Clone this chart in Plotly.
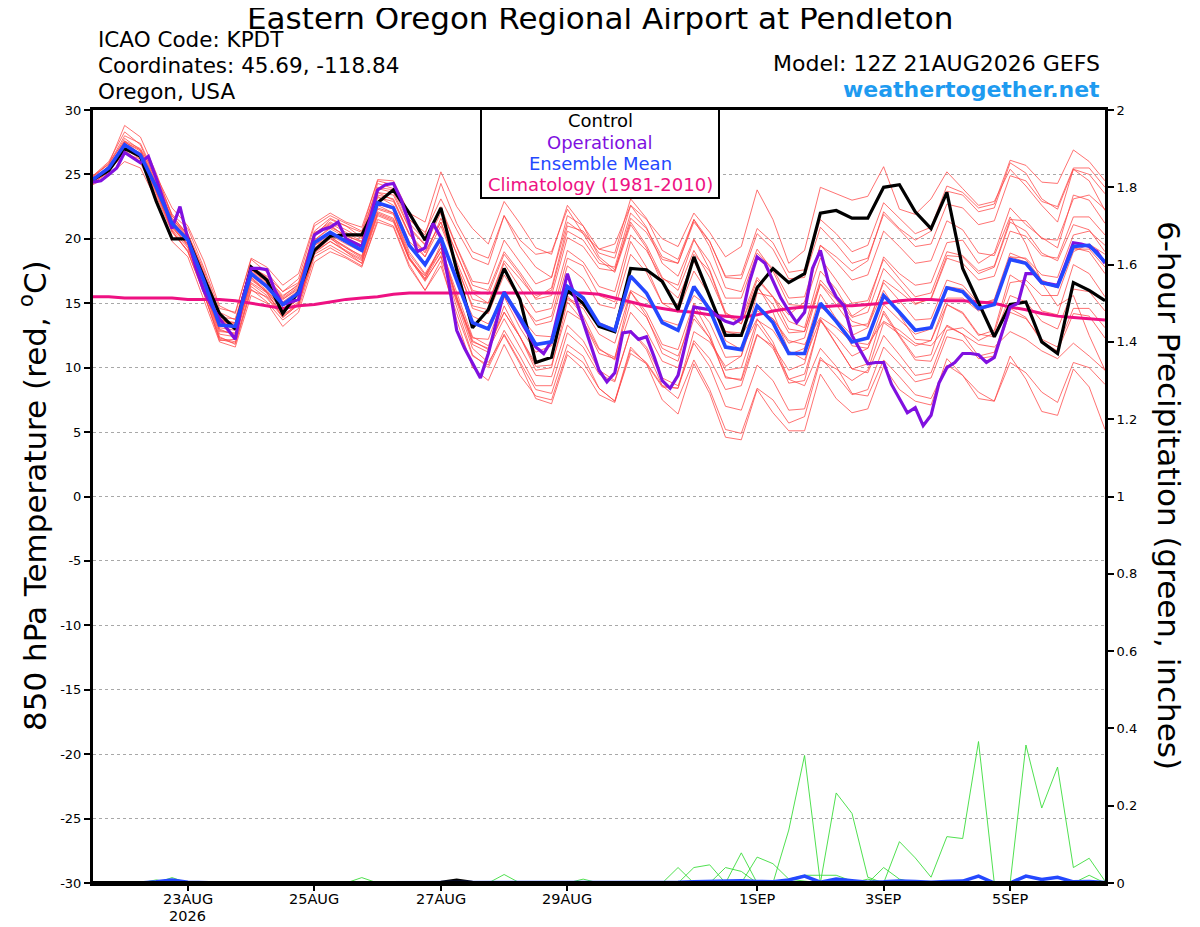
import plotly.graph_objects as go
import pandas as pd

# ---------------- data ----------------
start = "2026-08-21 12:00"
n6 = 65
n3 = 129

control = [24.6, 25.3, 27.0, 26.4, 22.9, 20.0, 20.0, 17.0, 14.2, 13.0, 17.8, 16.8, 14.2, 15.9, 19.1, 20.2,
           20.3, 20.3, 22.8, 23.8, 22.0, 19.9, 22.4, 17.6, 13.1, 14.5, 17.7, 15.3, 10.4, 10.8, 16.0, 15.0,
           13.2, 12.8, 17.7, 17.6, 16.7, 14.5, 18.6, 15.5, 12.5, 12.5, 16.2, 17.7, 16.6, 17.3, 22.0, 22.2,
           21.6, 21.6, 24.0, 24.2, 22.1, 20.8, 23.6, 17.7, 15.0, 12.4, 14.9, 15.1, 12.0, 11.1, 16.6, 16.0, 15.2]

ens_mean = [24.6, 25.5, 27.3, 26.5, 24.0, 21.2, 19.9, 16.8, 13.3, 13.2, 17.3, 16.3, 14.9, 15.8, 19.7, 20.5,
            19.8, 19.1, 22.8, 22.4, 19.5, 18.0, 20.1, 16.7, 13.5, 13.0, 15.8, 13.9, 11.8, 12.0, 16.3, 15.4,
            13.4, 12.9, 17.1, 15.8, 13.5, 12.9, 16.3, 14.5, 11.6, 11.4, 14.8, 13.5, 11.1, 11.1, 15.0, 13.6,
            12.0, 12.3, 15.6, 14.3, 12.9, 13.1, 16.2, 15.9, 14.6, 14.9, 18.4, 18.1, 16.6, 16.3, 19.4, 19.5, 18.2]

climatology = [15.5, 15.5, 15.4, 15.4, 15.4, 15.4, 15.3, 15.3, 15.3, 15.2, 15.0, 14.8, 14.6, 14.8, 14.9, 15.1,
               15.3, 15.4, 15.5, 15.7, 15.8, 15.8, 15.8, 15.8, 15.8, 15.8, 15.8, 15.8, 15.8, 15.8, 15.8, 15.8,
               15.7, 15.4, 15.1, 14.8, 14.6, 14.4, 14.3, 14.1, 14.0, 13.9, 14.1, 14.4, 14.6, 14.7, 14.7, 14.8,
               14.8, 14.9, 15.0, 15.2, 15.3, 15.3, 15.2, 15.2, 15.1, 15.0, 14.7, 14.5, 14.2, 14.0, 13.9, 13.8, 13.7]

# operational run, 3-hourly
operational = [24.4, 24.5, 25.0, 25.5, 26.7, 26.3, 25.9, 26.4, 24.7, 22.8, 20.8, 22.5, 20.0, 17.8, 16.0, 14.8,
               13.8, 13.0, 12.2, 15.5, 17.7, 17.7, 17.6, 16.0, 14.9, 15.1, 15.3, 18.0, 20.3, 20.7, 20.9, 21.3,
               20.0, 19.7, 19.4, 21.5, 23.8, 24.2, 24.3, 23.0, 21.2, 19.0, 19.3, 21.2, 20.1, 16.6, 12.9, 11.5,
               10.3, 9.2, 11.1, 13.5, 15.9, 14.8, 13.7, 12.6, 11.6, 11.1, 12.1, 14.7, 17.3, 15.4, 13.5, 11.6,
               9.8, 8.9, 9.6, 12.7, 12.8, 12.2, 12.4, 10.8, 9.0, 8.4, 9.4, 12.0, 14.7, 14.6, 14.5, 14.0,
               13.6, 13.4, 13.8, 16.6, 18.6, 18.1, 16.8, 15.4, 14.4, 13.5, 14.3, 17.7, 19.1, 16.7, 15.5, 14.8,
               12.5, 11.4, 10.3, 10.4, 10.4, 8.7, 7.6, 6.5, 6.9, 5.5, 6.3, 8.8, 10.0, 10.4, 11.1, 11.1,
               11.0, 10.4, 10.8, 12.8, 14.7, 15.0, 17.3, 17.3, 16.6, 16.5, 16.4, 18.0, 19.7, 19.6, 19.4, 19.0, 18.1]

m01 = [24.9, 26.0, 28.3, 27.3, 24.5, 21.5, 20.4, 17.6, 14.3, 13.7, 17.8, 17.1, 15.9, 16.6, 20.2, 21.5, 21.0, 20.1, 24.3,
       23.9, 21.5, 20.5, 23.1, 20.7, 18.5, 18.0, 21.8, 19.9, 18.8, 19.0, 22.3, 20.4, 19.2, 19.6, 22.6, 21.5, 20.0, 19.4, 22.0,
       20.5, 18.6, 19.4, 23.8, 21.5, 18.1, 19.1, 24.0, 23.5, 23.0, 23.3, 25.6, 22.3, 21.9, 23.1, 25.2, 23.9, 22.6, 22.9, 25.4,
       24.1, 22.6, 21.3, 25.4, 24.5, 22.2]
m02 = [24.2, 24.9, 26.0, 25.5, 23.0, 19.8, 18.6, 15.3, 12.0, 11.6, 15.6, 15.0, 13.2, 14.3, 18.2, 19.0, 18.5, 17.8, 21.5,
       21.0, 18.0, 16.0, 18.3, 13.7, 10.0, 9.0, 11.8, 9.4, 7.8, 7.5, 11.3, 10.4, 8.4, 7.4, 11.6, 10.3, 7.5, 6.4, 10.3,
       8.0, 4.6, 4.4, 8.3, 6.5, 5.1, 5.1, 9.5, 7.6, 6.5, 6.8, 10.1, 8.3, 7.4, 7.1, 10.7, 9.4, 8.1, 7.4, 10.9,
       9.1, 6.6, 6.3, 9.9, 8.5, 5.2]
m03 = [24.5, 25.7, 27.8, 26.9, 24.6, 21.8, 20.3, 17.4, 13.9, 13.0, 17.9, 16.8, 15.4, 16.3, 20.5, 21.0, 20.2, 19.8, 23.6,
       23.0, 20.4, 18.6, 21.0, 17.9, 14.8, 14.5, 17.6, 15.1, 13.6, 14.0, 18.5, 17.9, 15.6, 15.1, 19.8, 17.8, 15.0, 14.9, 18.8,
       17.5, 14.1, 13.4, 16.8, 15.5, 13.6, 13.1, 17.5, 16.1, 14.0, 14.8, 18.6, 17.3, 16.4, 16.6, 19.7, 19.9, 18.1, 18.9, 22.4,
       21.1, 20.1, 19.3, 23.4, 23.0, 21.2]
m04 = [24.8, 25.9, 27.6, 27.0, 24.9, 22.4, 21.0, 18.3, 14.8, 14.2, 18.5, 17.8, 16.4, 17.3, 21.2, 22.0, 21.3, 20.9, 24.5,
       24.2, 21.5, 20.3, 24.3, 21.2, 19.0, 18.5, 21.8, 19.4, 17.8, 17.0, 21.3, 20.4, 18.4, 17.4, 21.1, 19.3, 16.5, 15.4, 18.3,
       15.5, 12.1, 11.4, 13.8, 12.0, 9.1, 8.6, 11.5, 10.1, 8.0, 7.8, 10.6, 9.3, 7.9, 7.6, 10.2, 9.4, 7.6, 7.4, 10.4,
       9.6, 8.1, 7.3, 10.4, 10.0, 8.7]
m05 = [24.3, 25.2, 26.8, 26.0, 23.5, 20.6, 19.0, 15.8, 12.3, 12.0, 16.3, 15.4, 13.9, 14.9, 19.0, 19.8, 19.1, 18.4, 22.0,
       21.5, 18.4, 16.8, 18.6, 14.7, 11.0, 10.0, 12.6, 10.4, 8.3, 8.0, 11.8, 10.9, 8.4, 7.4, 11.1, 10.3, 8.5, 8.4, 12.8,
       12.0, 10.1, 10.9, 15.8, 15.5, 14.1, 15.1, 19.5, 18.6, 17.5, 18.3, 22.1, 20.8, 19.9, 20.6, 23.7, 23.4, 22.1, 22.4, 25.9,
       25.1, 23.1, 22.3, 25.4, 25.0, 23.5]
m06 = [24.4, 25.3, 27.0, 26.2, 23.6, 20.7, 19.3, 16.3, 12.6, 12.4, 16.5, 15.6, 14.3, 15.1, 18.9, 19.8, 19.0, 18.3, 21.9,
       21.4, 18.6, 16.9, 19.0, 15.4, 12.0, 11.5, 14.3, 12.4, 10.3, 10.8, 15.3, 14.6, 12.6, 11.9, 15.9, 14.3, 11.8, 11.4, 15.0,
       13.5, 10.8, 10.9, 14.6, 13.8, 11.9, 12.3, 16.5, 15.3, 13.6, 13.2, 16.0, 14.1, 12.2, 12.1, 14.9, 14.3, 12.6, 12.4, 15.6,
       15.1, 13.6, 13.0, 16.1, 15.9, 14.4]
m07 = [24.7, 25.6, 27.0, 26.4, 23.8, 21.0, 19.6, 16.6, 13.1, 12.9, 17.0, 16.0, 14.6, 15.4, 19.9, 20.9, 20.3, 19.7, 23.6,
       23.4, 20.8, 19.5, 22.0, 18.8, 16.0, 15.7, 18.8, 17.2, 15.3, 15.6, 20.1, 19.4, 17.7, 17.5, 21.6, 20.5, 18.4, 18.1, 21.3,
       19.8, 17.1, 17.2, 20.8, 19.7, 17.4, 17.6, 21.5, 20.4, 19.0, 19.5, 22.8, 21.6, 20.4, 20.9, 24.1, 23.6, 22.4, 22.7, 26.1,
       25.7, 24.4, 24.3, 26.9, 26.0, 24.5]
m08 = [24.6, 25.3, 27.1, 26.7, 24.2, 21.4, 20.2, 16.4, 12.8, 12.7, 16.9, 15.9, 14.4, 15.3, 19.0, 20.0, 19.3, 18.7, 22.4,
       22.0, 19.0, 17.3, 19.3, 15.8, 12.4, 11.7, 14.3, 12.4, 10.1, 10.2, 14.4, 13.6, 11.4, 10.8, 15.1, 13.9, 11.5, 10.9, 14.1,
       12.3, 9.3, 9.0, 12.6, 11.5, 9.1, 9.5, 13.6, 12.4, 10.9, 11.5, 14.9, 13.7, 12.6, 13.0, 16.3, 16.1, 14.9, 15.3, 18.9,
       18.4, 16.8, 16.3, 19.3, 19.0, 17.3]
m09 = [24.5, 25.6, 27.5, 26.8, 24.3, 21.6, 20.1, 17.1, 13.6, 13.4, 17.6, 16.7, 15.3, 16.1, 20.4, 21.1, 20.1, 19.4, 23.3,
       22.6, 19.8, 18.6, 21.6, 18.9, 15.8, 15.0, 18.3, 16.9, 15.4, 16.2, 21.0, 20.6, 18.9, 18.5, 22.6, 20.9, 18.1, 17.1, 20.0,
       17.6, 14.3, 13.4, 16.4, 14.3, 11.3, 10.6, 13.8, 11.8, 9.9, 9.6, 12.5, 11.0, 9.4, 9.6, 12.9, 13.1, 12.1, 12.7, 16.6,
       16.8, 15.6, 15.6, 19.0, 19.6, 18.8]
m10 = [24.3, 25.2, 26.9, 25.9, 23.3, 20.5, 19.1, 15.9, 12.2, 11.9, 16.1, 15.1, 13.7, 14.6, 18.6, 19.3, 18.6, 17.9, 21.3,
       20.9, 17.8, 16.0, 17.9, 14.2, 10.9, 10.2, 12.9, 10.9, 8.6, 8.6, 12.7, 11.6, 9.5, 8.9, 12.9, 11.6, 9.2, 8.6, 11.9,
       10.1, 7.0, 6.7, 10.2, 9.0, 6.7, 6.8, 10.8, 9.4, 7.9, 8.3, 11.6, 10.3, 8.9, 9.2, 12.4, 12.1, 10.7, 10.9, 14.3,
       13.8, 12.2, 11.6, 14.6, 14.6, 13.1]
m11 = [24.9, 25.8, 28.0, 27.4, 24.8, 21.9, 20.8, 17.8, 14.6, 14.3, 18.4, 17.4, 15.9, 16.9, 21.0, 21.8, 21.2, 20.6, 24.6,
       24.5, 22.0, 21.3, 25.2, 22.5, 20.8, 19.6, 22.9, 21.2, 19.3, 18.8, 22.6, 21.0, 18.6, 17.6, 21.3, 19.5, 17.0, 16.0, 19.1,
       17.0, 14.2, 13.8, 17.0, 15.5, 13.0, 12.8, 16.5, 14.9, 13.2, 13.4, 16.6, 15.2, 13.7, 13.8, 16.8, 16.4, 15.0, 15.2, 18.6,
       18.2, 16.6, 16.2, 19.2, 19.2, 17.8]
m12 = [24.5, 25.4, 27.2, 26.3, 23.8, 20.9, 19.5, 16.2, 12.4, 11.8, 16.0, 15.5, 14.0, 15.0, 19.3, 20.2, 19.3, 18.5, 22.1,
       21.6, 18.5, 16.7, 18.7, 15.1, 11.5, 10.4, 12.5, 10.3, 7.6, 7.2, 11.0, 9.9, 7.9, 7.3, 11.4, 10.4, 8.6, 8.4, 12.1,
       10.7, 8.3, 8.6, 12.5, 11.7, 9.8, 10.3, 14.7, 13.8, 12.5, 13.1, 16.8, 15.9, 14.9, 15.4, 18.7, 18.6, 17.3, 17.8, 21.3,
       20.6, 18.9, 18.3, 21.1, 20.7, 19.0]
m13 = [24.6, 25.6, 27.4, 26.6, 24.2, 21.4, 20.0, 17.0, 13.5, 13.3, 17.5, 16.5, 15.1, 16.0, 19.9, 20.8, 20.1, 19.5, 23.2,
       22.9, 20.3, 18.9, 21.3, 18.2, 15.3, 15.0, 18.1, 16.2, 14.3, 14.6, 19.1, 18.2, 16.3, 15.9, 20.3, 19.1, 16.9, 16.4, 19.9,
       18.2, 15.4, 15.4, 18.9, 17.7, 15.4, 15.5, 19.5, 18.2, 16.8, 17.2, 20.6, 19.4, 18.1, 18.3, 21.4, 20.7, 18.9, 18.7, 21.7,
       19.6, 16.6, 14.8, 15.6, 12.5, 9.8]
m14 = [24.7, 25.5, 27.2, 26.6, 24.1, 21.3, 20.1, 17.0, 13.6, 13.5, 17.6, 16.6, 15.3, 16.2, 20.3, 21.2, 20.5, 19.8, 23.4,
       23.1, 20.4, 19.0, 21.3, 17.9, 14.6, 14.2, 17.2, 15.3, 13.3, 13.6, 17.9, 16.9, 14.9, 14.6, 18.8, 17.4, 15.0, 14.3, 17.5,
       15.6, 12.8, 12.7, 16.2, 14.9, 12.7, 12.8, 16.8, 15.4, 13.9, 14.3, 17.7, 16.4, 15.0, 15.3, 18.5, 18.1, 16.8, 17.1, 20.6,
       20.2, 18.7, 18.5, 21.7, 21.7, 20.3]
m15 = [24.4, 25.3, 26.6, 26.2, 23.9, 21.0, 19.4, 16.0, 13.0, 12.5, 16.6, 15.8, 14.1, 14.9, 18.8, 19.5, 18.8, 18.1, 21.8,
       21.3, 18.4, 17.1, 19.3, 15.2, 12.3, 12.2, 15.5, 13.1, 11.2, 11.7, 15.6, 14.0, 11.5, 10.6, 14.3, 12.8, 10.5, 10.0, 13.8,
       12.3, 9.8, 10.0, 13.7, 12.9, 11.0, 11.5, 15.7, 13.8, 11.7, 11.5, 14.2, 12.4, 10.6, 10.5, 13.3, 12.6, 10.9, 11.2, 14.6,
       13.9, 12.0, 11.3, 14.2, 14.0, 12.3]
m16 = [24.8, 25.8, 28.8, 27.9, 25.1, 21.8, 20.3, 17.3, 13.7, 13.5, 17.9, 17.0, 15.6, 16.4, 20.4, 21.3, 20.7, 20.0, 23.9,
       23.6, 20.9, 19.6, 22.5, 19.4, 16.7, 16.5, 19.9, 18.2, 16.5, 17.0, 21.8, 21.0, 19.2, 18.9, 23.1, 21.6, 19.1, 18.4, 21.5,
       19.4, 16.2, 15.9, 19.2, 17.5, 14.9, 14.8, 18.5, 16.8, 15.0, 15.2, 18.4, 16.9, 15.5, 15.8, 19.0, 18.7, 17.5, 17.9, 21.5,
       21.4, 20.0, 19.9, 23.1, 23.4, 22.3]
m17 = [24.5, 25.3, 27.1, 26.3, 23.7, 20.8, 19.6, 16.5, 12.9, 12.6, 16.8, 15.9, 14.5, 15.3, 19.2, 20.1, 19.4, 18.6, 22.3,
       21.9, 18.8, 17.2, 19.0, 15.5, 12.1, 11.4, 13.8, 11.6, 9.4, 9.3, 13.3, 12.1, 9.8, 9.0, 12.9, 11.4, 8.6, 7.6, 10.6,
       8.3, 5.2, 4.9, 8.4, 7.5, 5.7, 6.2, 10.6, 9.9, 9.0, 9.8, 13.5, 12.6, 11.7, 12.1, 15.4, 15.4, 14.4, 14.9, 18.6,
       18.5, 17.2, 17.0, 20.3, 20.6, 19.5]
m18 = [24.6, 25.4, 27.5, 26.9, 24.4, 21.6, 20.3, 17.3, 13.9, 13.8, 17.8, 16.9, 15.5, 16.5, 20.6, 21.6, 21.0, 20.5, 24.0,
       23.8, 21.2, 19.9, 22.3, 19.3, 16.4, 16.0, 19.0, 17.4, 15.6, 16.0, 20.6, 19.9, 18.1, 17.8, 22.0, 20.8, 18.6, 18.1, 21.5,
       19.8, 17.0, 16.9, 20.4, 19.2, 16.9, 17.0, 20.9, 19.6, 18.1, 18.5, 21.9, 20.7, 19.4, 19.6, 22.7, 22.4, 21.1, 21.4, 24.9,
       24.5, 22.9, 22.5, 25.5, 25.5, 24.0]
m19 = [24.4, 25.5, 27.6, 26.5, 23.7, 20.6, 19.0, 15.8, 12.1, 12.2, 17.0, 15.8, 13.9, 14.9, 19.5, 20.1, 19.0, 18.1, 22.6,
       22.0, 18.5, 16.9, 19.6, 15.4, 11.8, 11.2, 14.8, 12.4, 9.8, 10.0, 15.1, 13.6, 11.1, 10.7, 15.9, 14.0, 11.1, 10.5, 14.9,
       12.6, 9.2, 9.1, 13.4, 11.7, 8.8, 9.0, 13.7, 11.8, 9.9, 10.3, 14.4, 12.5, 10.8, 11.0, 14.9, 14.2, 12.5, 12.9, 17.2,
       16.4, 14.4, 14.1, 18.0, 17.3, 15.5]
m20 = [24.5, 25.4, 27.0, 26.4, 24.0, 21.1, 19.8, 16.9, 13.4, 13.0, 17.1, 16.2, 14.8, 15.6, 19.5, 20.3, 19.6, 19.0, 22.7,
       22.3, 19.4, 18.0, 19.8, 16.8, 14.0, 13.4, 15.5, 14.0, 12.5, 12.4, 15.4, 14.8, 13.5, 13.0, 16.0, 15.3, 13.7, 13.3, 15.6,
       14.7, 12.8, 12.5, 14.4, 13.8, 12.1, 11.8, 13.9, 13.1, 12.0, 11.8, 13.6, 12.9, 11.9, 11.7, 13.2, 12.6, 11.8, 11.6, 12.8,
       12.2, 11.3, 10.7, 11.9, 10.9, 9.8]
members = [m01, m02, m03, m04, m05, m06, m07, m08, m09, m10,
           m11, m12, m13, m14, m15, m16, m17, m18, m19, m20]

# 6-hour precipitation (inches)
pr01 = [0, 0, 0, 0, 0, 0.014, 0, 0, 0, 0, 0, 0, 0,
        0, 0, 0, 0, 0, 0, 0, 0, 0, 0, 0, 0, 0,
        0, 0, 0, 0, 0, 0, 0, 0, 0, 0, 0, 0.04, 0,
        0, 0, 0, 0, 0, 0.137, 0.33, 0, 0, 0, 0, 0, 0,
        0, 0, 0, 0, 0, 0, 0, 0, 0, 0, 0, 0, 0]
pr02 = [0, 0, 0, 0, 0, 0, 0, 0, 0, 0, 0, 0, 0,
        0, 0, 0, 0, 0, 0, 0, 0, 0, 0, 0, 0, 0,
        0, 0, 0, 0, 0, 0, 0, 0, 0, 0, 0, 0, 0.04,
        0.047, 0, 0, 0, 0, 0, 0, 0, 0.233, 0.18, 0.015, 0, 0,
        0, 0, 0, 0, 0, 0, 0, 0, 0, 0, 0, 0, 0]
pr03 = [0, 0, 0, 0, 0, 0, 0, 0, 0, 0, 0, 0, 0,
        0, 0, 0, 0, 0, 0, 0, 0, 0, 0, 0, 0, 0,
        0, 0, 0, 0, 0, 0, 0, 0, 0, 0, 0, 0, 0,
        0, 0.04, 0.03, 0, 0, 0, 0, 0, 0, 0, 0, 0, 0.107,
        0.065, 0.015, 0.12, 0.115, 0.366, 0, 0, 0, 0, 0, 0, 0, 0]
pr04 = [0, 0, 0, 0, 0, 0, 0, 0, 0, 0, 0, 0, 0,
        0, 0, 0, 0, 0, 0, 0, 0, 0, 0, 0, 0, 0,
        0, 0, 0, 0, 0, 0, 0, 0, 0, 0, 0, 0, 0,
        0, 0, 0.078, 0, 0, 0, 0, 0, 0, 0, 0, 0, 0,
        0, 0, 0, 0, 0, 0, 0, 0.357, 0.194, 0.3, 0.04, 0.064, 0.005]
pr05 = [0, 0, 0, 0, 0, 0, 0, 0, 0, 0, 0, 0, 0,
        0, 0, 0, 0, 0, 0, 0, 0, 0, 0, 0, 0, 0,
        0, 0, 0, 0, 0, 0, 0, 0, 0, 0, 0, 0, 0,
        0, 0, 0, 0.067, 0.05, 0.01, 0.005, 0, 0, 0, 0, 0.04, 0.01,
        0, 0, 0, 0, 0, 0, 0, 0, 0, 0, 0, 0, 0]
pr06 = [0, 0, 0, 0, 0, 0, 0, 0, 0, 0, 0, 0, 0,
        0, 0, 0, 0, 0.014, 0, 0, 0, 0, 0, 0, 0, 0,
        0, 0, 0, 0, 0, 0, 0, 0, 0, 0, 0, 0, 0,
        0, 0, 0, 0, 0, 0.01, 0.02, 0.02, 0.02, 0.005, 0, 0, 0,
        0, 0, 0, 0, 0, 0, 0, 0, 0, 0, 0, 0, 0]
pr07 = [0, 0, 0, 0, 0.008, 0, 0, 0, 0, 0, 0, 0, 0,
        0, 0, 0, 0, 0, 0, 0, 0, 0, 0, 0, 0, 0,
        0.022, 0, 0, 0, 0, 0, 0, 0, 0, 0, 0, 0, 0,
        0, 0, 0, 0, 0, 0, 0, 0, 0, 0, 0, 0, 0,
        0, 0, 0, 0, 0, 0, 0, 0, 0, 0, 0, 0, 0]
pr08 = [0, 0, 0, 0, 0, 0, 0, 0, 0, 0, 0, 0, 0,
        0, 0, 0, 0, 0, 0, 0, 0, 0, 0, 0, 0, 0,
        0, 0, 0, 0, 0, 0.01, 0, 0, 0, 0, 0, 0, 0,
        0, 0, 0, 0, 0, 0, 0, 0, 0, 0, 0.01, 0, 0,
        0, 0, 0, 0, 0, 0, 0, 0, 0, 0, 0, 0.02, 0]
precip_members = [pr01, pr02, pr03, pr04, pr05, pr06, pr07, pr08]

precip_mean = [0, 0, 0, 0, 0.003, 0.008, 0.002, 0, 0, 0, 0, 0, 0,
               0, 0, 0, 0, 0.001, 0, 0, 0, 0, 0, 0, 0, 0.001,
               0.001, 0, 0, 0, 0, 0, 0, 0, 0, 0, 0, 0.002, 0.003,
               0.004, 0.004, 0.006, 0.004, 0.003, 0.008, 0.018, 0.002, 0.01, 0.006, 0.002, 0.003, 0.005,
               0.004, 0.002, 0.004, 0.005, 0.018, 0, 0, 0.018, 0.009, 0.015, 0.003, 0.004, 0.001]
precip_control = [0, 0, 0, 0, 0, 0, 0, 0, 0, 0, 0, 0, 0,
                  0, 0, 0, 0, 0, 0, 0, 0, 0, 0.002, 0.008, 0.002, 0,
                  0, 0, 0, 0, 0, 0, 0, 0, 0, 0, 0, 0, 0,
                  0, 0, 0, 0, 0, 0, 0, 0, 0, 0, 0, 0, 0,
                  0, 0, 0, 0, 0, 0, 0, 0, 0, 0, 0, 0, 0]

tick_dates = ["2026-08-23", "2026-08-25", "2026-08-27", "2026-08-29", "2026-09-01", "2026-09-03", "2026-09-05"]
tick_labels = ["23AUG", "25AUG", "27AUG", "29AUG", "1SEP", "3SEP", "5SEP"]
year_label = "2026"
temp_ticks = [-30, -25, -20, -15, -10, -5, 0, 5, 10, 15, 20, 25, 30]
temp_tick_labels = ["-30", "-25", "-20", "-15", "-10", "-5", "0", "5", "10", "15", "20", "25", "30"]
precip_ticks = [0, 0.2, 0.4, 0.6, 0.8, 1.0, 1.2, 1.4, 1.6, 1.8, 2.0]
precip_tick_labels = ["0", "0.2", "0.4", "0.6", "0.8", "1", "1.2", "1.4", "1.6", "1.8", "2"]

title_text = "Eastern Oregon Regional Airport at Pendleton"
info_left = ["ICAO Code: KPDT", "Coordinates: 45.69, -118.84", "Oregon, USA"]
model_text = "Model: 12Z 21AUG2026 GEFS"
site_text = "weathertogether.net"
legend_items = [("Control", "#000000"), ("Operational", "#8010E0"),
                ("Ensemble Mean", "#2448FF"), ("Climatology (1981-2010)", "#EE1182")]

# ---------------- figure ----------------
t6 = pd.date_range(start, periods=n6, freq="6h")
t3 = pd.date_range(start, periods=n3, freq="3h")

FONT = "DejaVu Sans"
OFF = 8                      # page body margin of the html page
W, H = 1200 - OFF, 927 - OFF
L, R, T, B = 93, 1105, 110, 883   # plot frame in screen pixels


def px(x):
    return (x - L) / (R - L)


def py(y):
    return (B - y) / (B - T)


fig = go.Figure()

for m in members:
    fig.add_trace(go.Scatter(x=t6, y=m, mode="lines", yaxis="y",
                             line=dict(color="rgba(255,70,70,0.85)", width=0.9),
                             hoverinfo="skip", showlegend=False))

for p in precip_members:
    fig.add_trace(go.Scatter(x=t6, y=p, mode="lines", yaxis="y2",
                             line=dict(color="#3CDC3C", width=0.9),
                             hoverinfo="skip", showlegend=False))

fig.add_trace(go.Scatter(x=t6, y=precip_control, mode="lines", yaxis="y2",
                         line=dict(color="#000000", width=3), showlegend=False))
fig.add_trace(go.Scatter(x=t6, y=precip_mean, mode="lines", yaxis="y2",
                         line=dict(color="#2448FF", width=3.5), showlegend=False))

fig.add_trace(go.Scatter(x=t6, y=climatology, mode="lines", yaxis="y",
                         line=dict(color="#EE1182", width=3), showlegend=False))
fig.add_trace(go.Scatter(x=t6, y=control, mode="lines", yaxis="y",
                         line=dict(color="#000000", width=3.2), showlegend=False))
fig.add_trace(go.Scatter(x=t3, y=operational, mode="lines", yaxis="y",
                         line=dict(color="#8010E0", width=3.2), showlegend=False))
fig.add_trace(go.Scatter(x=t6, y=ens_mean, mode="lines", yaxis="y",
                         line=dict(color="#2448FF", width=3.6), showlegend=False))

annotations = []
annotations.append(dict(x=px(600), y=py(18), xref="paper", yref="paper", text=title_text,
                        showarrow=False, xanchor="center", yanchor="middle",
                        font=dict(family=FONT, size=31, color="black")))
for k, txt in enumerate(info_left):
    annotations.append(dict(x=px(96), y=py(40 + 26 * k), xref="paper", yref="paper", text=txt,
                            showarrow=False, xanchor="left", yanchor="middle",
                            font=dict(family=FONT, size=21.5, color="black")))
annotations.append(dict(x=px(1102), y=py(63), xref="paper", yref="paper", text=model_text,
                        showarrow=False, xanchor="right", yanchor="middle",
                        font=dict(family=FONT, size=22, color="black")))
annotations.append(dict(x=px(1102), y=py(89), xref="paper", yref="paper", text="<b>" + site_text + "</b>",
                        showarrow=False, xanchor="right", yanchor="middle",
                        font=dict(family=FONT, size=22, color="#1E9BF0")))
for k, (txt, col) in enumerate(legend_items):
    annotations.append(dict(x=px(600), y=py(121 + 21.3 * k), xref="paper", yref="paper", text=txt,
                            showarrow=False, xanchor="center", yanchor="middle",
                            font=dict(family=FONT, size=18, color=col)))
annotations.append(dict(x=px(33), y=py(496), xref="paper", yref="paper",
                        text="850 hPa Temperature (red, <sup>o</sup>C)", textangle=-90,
                        showarrow=False, xanchor="center", yanchor="middle",
                        font=dict(family=FONT, size=31, color="black")))
annotations.append(dict(x=px(1169), y=py(495), xref="paper", yref="paper",
                        text="6-hour Precipitation (green, inches)", textangle=90,
                        showarrow=False, xanchor="center", yanchor="middle",
                        font=dict(family=FONT, size=31, color="black")))
# date tick labels placed on the x scale
for d, lab in zip(tick_dates, tick_labels):
    annotations.append(dict(x=d, y=py(899), xref="x", yref="paper", text=lab,
                            showarrow=False, xanchor="center", yanchor="middle",
                            font=dict(family=FONT, size=14.5, color="black")))
annotations.append(dict(x=tick_dates[0], y=py(916), xref="x", yref="paper", text=year_label,
                        showarrow=False, xanchor="center", yanchor="middle",
                        font=dict(family=FONT, size=14.5, color="black")))

shapes = [dict(type="rect", xref="paper", yref="paper", x0=px(481), x1=px(719), y0=py(198), y1=py(109),
               line=dict(color="black", width=2), fillcolor="white", layer="above"),
          dict(type="line", xref="paper", yref="paper", x0=-0.001, x1=1.001, y0=0, y1=0,
               line=dict(color="black", width=4), layer="above")]

fig.update_layout(
    width=W, height=H,
    margin=dict(l=L - OFF, r=1200 - R, t=T - OFF, b=927 - B, pad=0, autoexpand=False),
    paper_bgcolor="white", plot_bgcolor="white",
    showlegend=False,
    font=dict(family=FONT, color="black"),
    annotations=annotations, shapes=shapes,
    xaxis=dict(range=[t6[0], t6[-1]], tickvals=pd.to_datetime(tick_dates), showticklabels=False,
               showgrid=False, zeroline=False, showline=True, linecolor="black", linewidth=3, mirror=True,
               ticks="outside", ticklen=5, tickwidth=1.5, tickcolor="black", layer="above traces"),
    yaxis=dict(range=[-30, 30], tickvals=temp_ticks, ticktext=temp_tick_labels,
               showgrid=True, gridcolor="#A8A8A8", griddash="dot",
               gridwidth=1, zeroline=False, showline=True, linecolor="black", linewidth=3,
               ticks="outside", ticklen=6, tickwidth=1.5, tickcolor="black", layer="above traces",
               tickfont=dict(family=FONT, size=13, color="black")),
    yaxis2=dict(range=[0, 2], tickvals=precip_ticks, ticktext=precip_tick_labels, overlaying="y",
                side="right", showgrid=False, zeroline=False, showline=True, linecolor="black", linewidth=3,
                ticks="outside", ticklen=6, tickwidth=1.5, tickcolor="black", layer="above traces",
                tickfont=dict(family=FONT, size=13, color="black")),
)

fig.write_html("out.html")
